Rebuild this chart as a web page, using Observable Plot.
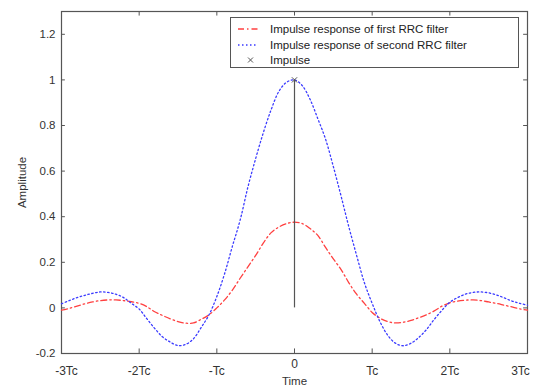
<!DOCTYPE html>
<html>
<head>
<meta charset="utf-8">
<script src="https://cdn.jsdelivr.net/npm/d3@7"></script>
<script src="https://cdn.jsdelivr.net/npm/@observablehq/plot@0.6"></script>
<style>
  html, body { margin: 0; padding: 0; background: #fff; }
  #wrap { position: relative; width: 533px; height: 386px; font-family: "Liberation Sans", Arial, sans-serif; }
  #legend { position: absolute; left: 230px; top: 17px; width: 289px; height: 51px; border: 1px solid #555; background: #fff; box-sizing: border-box; }
  #legend .row { position: absolute; left: 0; height: 16px; width: 100%; font-size: 11.5px; color: #222; }
  #legend .row svg { position: absolute; left: 4px; top: 0; }
  #legend .row span { position: absolute; left: 39px; top: 0; line-height: 16px; white-space: nowrap; }
</style>
</head>
<body>
<div id="wrap"></div>
<script>
// time in multiples of Tc
const times = [-3.0,-2.9,-2.8,-2.7,-2.6,-2.5,-2.4,-2.3,-2.2,-2.1,-2.0,-1.9,-1.8,-1.7,-1.6,-1.5,-1.4,-1.3,-1.2,-1.1,-1.0,-0.9,-0.8,-0.7,-0.6,-0.5,-0.4,-0.3,-0.2,-0.1,0.0,0.1,0.2,0.3,0.4,0.5,0.6,0.7,0.8,0.9,1.0,1.1,1.2,1.3,1.4,1.5,1.6,1.7,1.8,1.9,2.0,2.1,2.2,2.3,2.4,2.5,2.6,2.7,2.8,2.9,3.0];
// impulse response of first RRC filter
const firstRRC = [-0.010,-0.002,0.008,0.018,0.026,0.032,0.035,0.035,0.032,0.027,0.020,0.005,-0.017,-0.033,-0.048,-0.060,-0.067,-0.066,-0.050,-0.030,0.000,0.035,0.078,0.130,0.180,0.230,0.285,0.330,0.355,0.370,0.376,0.370,0.348,0.318,0.265,0.215,0.168,0.110,0.060,0.020,-0.020,-0.045,-0.060,-0.066,-0.063,-0.055,-0.043,-0.030,-0.013,0.008,0.022,0.030,0.034,0.035,0.032,0.026,0.020,0.012,0.004,-0.004,-0.010];
// impulse response of second RRC filter
const secondRRC = [0.018,0.032,0.045,0.055,0.064,0.070,0.068,0.060,0.045,0.020,-0.005,-0.048,-0.090,-0.127,-0.150,-0.165,-0.160,-0.135,-0.085,-0.030,0.050,0.150,0.270,0.385,0.530,0.655,0.770,0.870,0.950,0.990,1.000,0.975,0.915,0.830,0.740,0.620,0.490,0.355,0.230,0.110,0.020,-0.060,-0.120,-0.155,-0.166,-0.155,-0.130,-0.095,-0.050,-0.010,0.025,0.045,0.060,0.068,0.070,0.066,0.057,0.044,0.030,0.020,0.012];
// impulse
const impulseT = [0];
const impulseA = [1];
// ticks
const xTicks = [-3,-2,-1,0,1,2,3];
const xTickLabels = ["-3Tc","-2Tc","-Tc","0","Tc","2Tc","3Tc"];
const yTicks = [-0.2,0,0.2,0.4,0.6,0.8,1,1.2];
const yTickLabels = ["-0.2","0","0.2","0.4","0.6","0.8","1","1.2"];
const xTitle = "Time";
const yTitle = "Amplitude";
const legendLabels = ["Impulse response of first RRC filter","Impulse response of second RRC filter","Impulse"];

const X0 = -3, X1 = 3, Y0 = -0.2, Y1 = 1.3;
const red = "#ff4040", blue = "#3a3aff", gray = "#555";

const first = times.map((t,i) => ({t, v: firstRRC[i]}));
const second = times.map((t,i) => ({t, v: secondRRC[i]}));
const imp = impulseT.map((t,i) => ({t, v: impulseA[i]}));
const xLab = xTicks.map((t,i) => ({t, label: xTickLabels[i]}));
const n = xLab.length;
const mid = xTicks.indexOf(0);

const tkx = 0.05, tky = 0.02;
const labStyle = {x: "t", y: () => Y0, text: "label", dy: 18, fontSize: 12, fill: "#333"};

const chart = Plot.plot({
  width: 533,
  height: 386,
  marginLeft: 61,
  marginRight: 6,
  marginTop: 11,
  marginBottom: 33,
  style: {fontFamily: "Liberation Sans, Arial, sans-serif", fontSize: "11.5px", color: "#333", background: "#fff"},
  x: {domain: [X0, X1], axis: null},
  y: {domain: [Y0, Y1]},
  marks: [
    Plot.frame({stroke: gray, strokeWidth: 1.2}),
    Plot.axisY({ticks: yTicks, tickFormat: d => yTickLabels[yTicks.findIndex(v => Math.abs(v-d)<1e-9)], tickSize: 0, tickPadding: 6, label: yTitle, labelAnchor: "center", labelArrow: "none", labelOffset: 44}),
    // x tick labels
    Plot.text(xLab.slice(0, 1), {...labStyle, dx: 5}),
    Plot.text(xLab.slice(1, n - 1).filter(d => d.t !== 0), labStyle),
    Plot.text([xLab[mid]], {...labStyle, dy: 11}),
    Plot.text(xLab.slice(n - 1), {...labStyle, dx: -7}),
    Plot.text([xTitle], {x: () => 0, y: () => Y0, text: d => d, dy: 27.5, fontSize: 11.5, fill: "#333"}),
    // inward ticks
    Plot.ruleX(xTicks, {x: d => d, y1: Y0, y2: Y0 + tky, stroke: gray}),
    Plot.ruleX(xTicks, {x: d => d, y1: Y1 - tky, y2: Y1, stroke: gray}),
    Plot.ruleY(yTicks, {y: d => d, x1: X0, x2: X0 + tkx, stroke: gray}),
    Plot.ruleY(yTicks, {y: d => d, x1: X1 - tkx, x2: X1, stroke: gray}),
    // curves
    Plot.line(first, {x: "t", y: "v", stroke: red, strokeWidth: 1.3, strokeDasharray: "6,3,1.5,3", curve: "catmull-rom"}),
    Plot.line(second, {x: "t", y: "v", stroke: blue, strokeWidth: 1.3, strokeDasharray: "1.5,2.5", curve: "catmull-rom"}),
    Plot.ruleX(imp, {x: "t", y1: 0, y2: "v", stroke: gray, strokeWidth: 1.2}),
    Plot.dot(imp, {x: "t", y: "v", symbol: "times", r: 2.5, stroke: gray, strokeWidth: 1})
  ]
});
const wrap = document.getElementById("wrap");
wrap.appendChild(chart);

// legend
const legend = document.createElement("div");
legend.id = "legend";
const samples = [
  `<line x1="3" x2="23" y1="8" y2="8" stroke="${red}" stroke-width="1.3" stroke-dasharray="6,3,1.5,3"/>`,
  `<line x1="3" x2="23" y1="8" y2="8" stroke="${blue}" stroke-width="1.3" stroke-dasharray="1.5,2.5"/>`,
  `<path d="M13,5.5L18,10.5M18,5.5L13,10.5" stroke="${gray}" stroke-width="1"/>`
];
legendLabels.forEach((lab, i) => {
  const row = document.createElement("div");
  row.className = "row";
  row.style.top = (3 + i * 15.5) + "px";
  row.innerHTML = `<svg width="30" height="16">${samples[i]}</svg><span>${lab}</span>`;
  legend.appendChild(row);
});
wrap.appendChild(legend);
</script>
</body>
</html>
